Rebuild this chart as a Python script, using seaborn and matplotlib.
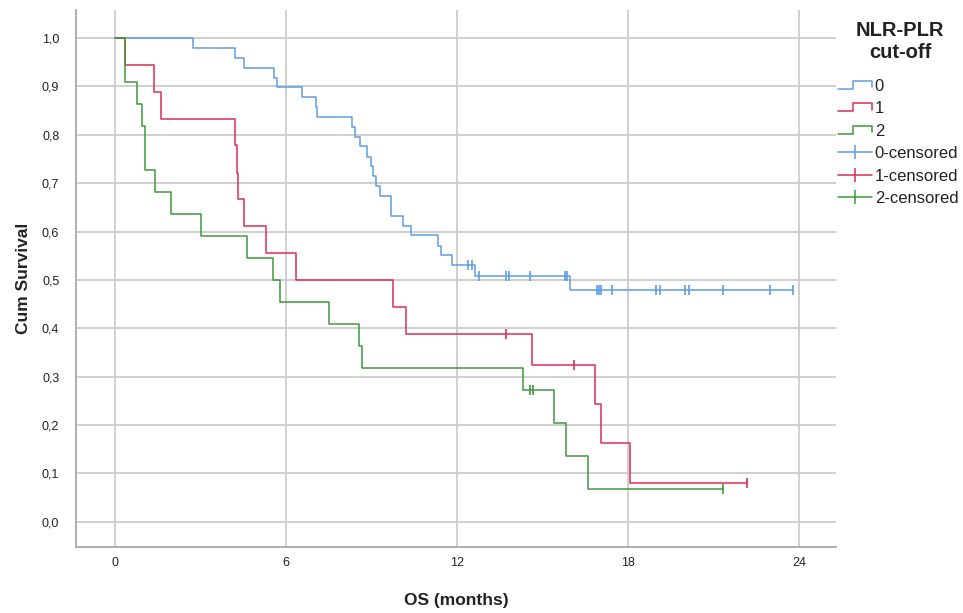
import numpy as np
import pandas as pd
import matplotlib
matplotlib.use("Agg")
import matplotlib.pyplot as plt
import seaborn as sns
from matplotlib.lines import Line2D
from matplotlib.legend_handler import HandlerBase

# ---- data (Kaplan-Meier steps) ----
groups = ["0", "1", "2"]

t0 = [0, 2.73, 4.21, 4.54, 5.58, 5.70, 6.55, 7.04, 7.10, 8.30, 8.42, 8.60, 8.83,
      8.97, 9.04, 9.15, 9.30, 9.67, 10.12, 10.37, 11.34, 11.43, 11.81, 12.63,
      15.96, 23.80]
s0 = [1.0, 0.980, 0.959, 0.939, 0.918, 0.898, 0.878, 0.857, 0.837, 0.816, 0.796,
      0.776, 0.755, 0.735, 0.714, 0.694, 0.673, 0.633, 0.612, 0.592, 0.571,
      0.551, 0.531, 0.508, 0.479, 0.479]
c0 = [12.40, 12.51, 12.78, 13.72, 13.84, 14.56, 15.79, 15.87, 16.90, 16.98,
      17.04, 17.45, 19.00, 19.12, 20.00, 20.15, 21.35, 22.98, 23.80]

t1 = [0, 0.35, 1.35, 1.60, 4.21, 4.27, 4.30, 4.54, 5.29, 6.34, 9.77, 10.21,
      14.62, 16.84, 17.05, 18.07, 22.19]
s1 = [1.0, 0.944, 0.889, 0.833, 0.778, 0.722, 0.667, 0.611, 0.556, 0.500,
      0.444, 0.389, 0.324, 0.243, 0.162, 0.081, 0.081]
c1 = [13.72, 16.12, 22.19]

t2 = [0, 0.35, 0.76, 0.94, 1.05, 1.40, 1.96, 3.00, 4.64, 5.53, 5.79, 7.52,
      8.57, 8.65, 14.30, 15.40, 15.82, 16.61, 21.35]
s2 = [1.0, 0.909, 0.864, 0.818, 0.727, 0.682, 0.636, 0.591, 0.545, 0.500,
      0.455, 0.409, 0.364, 0.318, 0.273, 0.205, 0.136, 0.068, 0.068]
c2 = [14.56, 14.66, 21.35]

x_ticks = [0, 6, 12, 18, 24]
y_ticks = [0.0, 0.1, 0.2, 0.3, 0.4, 0.5, 0.6, 0.7, 0.8, 0.9, 1.0]
y_labels = ["0,0", "0,1", "0,2", "0,3", "0,4", "0,5", "0,6", "0,7", "0,8", "0,9", "1,0"]

colors = {"0": "#5f9de6", "1": "#dd2d55", "2": "#3f983b"}

steps = {"0": (t0, s0, c0), "1": (t1, s1, c1), "2": (t2, s2, c2)}

curve_df = pd.concat([pd.DataFrame({"t": t, "s": s, "g": g})
                      for g, (t, s, c) in steps.items()], ignore_index=True)
cens_rows = []
for g, (t, s, c) in steps.items():
    ta = np.array(t); sa = np.array(s)
    for ct in c:
        idx = np.searchsorted(ta, ct, side="right") - 1
        cens_rows.append({"t": ct, "s": sa[idx], "g": g})
cens_df = pd.DataFrame(cens_rows)

# ---- figure ----
sns.set_theme(style="white")
plt.rcParams["font.family"] = ["Liberation Sans", "DejaVu Sans"]

fig = plt.figure(figsize=(9.63, 6.13), dpi=100)
ax = fig.add_axes([76 / 963, 1 - 547 / 613, (836 - 76) / 963, (547 - 10) / 613])

for g in groups:
    sub = curve_df[curve_df.g == g]
    sns.lineplot(data=sub, x="t", y="s", ax=ax, color=colors[g], lw=1.1,
                 drawstyle="steps-post", estimator=None, sort=False, zorder=3)
for g in groups:
    sub = cens_df[cens_df.g == g]
    sns.scatterplot(data=sub, x="t", y="s", ax=ax, color=colors[g], marker="|",
                    s=55, linewidth=1.2, zorder=4)

ax.set_xlim(-1.37, 25.3)
ax.set_ylim(-0.052, 1.058)
ax.set_xticks(x_ticks)
ax.set_xticklabels([str(v) for v in x_ticks])
ax.set_yticks(y_ticks)
ax.set_yticklabels(y_labels)
ax.tick_params(axis="both", length=0, labelsize=9, colors="#222222")
ax.tick_params(axis="y", pad=12)
ax.tick_params(axis="x", pad=7)

ax.grid(True, color="#cccccc", lw=1.3, zorder=0)
ax.set_axisbelow(True)
for side in ["top", "right"]:
    ax.spines[side].set_visible(False)
for side in ["left", "bottom"]:
    ax.spines[side].set_color("#a8a8a8")
    ax.spines[side].set_linewidth(1.3)

ax.set_xlabel("OS (months)", fontsize=12.5, fontweight="bold", color="#222222")
ax.set_ylabel("Cum Survival", fontsize=12.5, fontweight="bold", color="#222222")
ax.xaxis.set_label_coords(0.5, -0.086)
ax.yaxis.set_label_coords(-0.059, 0.5)


class StepHandler(HandlerBase):
    def create_artists(self, legend, orig_handle, xdescent, ydescent, width,
                       height, fontsize, trans):
        x0 = -xdescent
        y0 = -ydescent + height * 0.15
        y1 = -ydescent + height * 0.85
        xs = [x0, x0 + 0.45 * width, x0 + 0.45 * width, x0 + width, x0 + width]
        ys = [y0, y0, y1, y1, y0 + 0.15 * height]
        ln = Line2D(xs, ys, color=orig_handle.get_color(), lw=1.1, transform=trans)
        return [ln]


step_handles = [Line2D([], [], color=colors[g]) for g in groups]
cens_handles = [Line2D([], [], color=colors[g], lw=1.1, marker="|",
                       markersize=10, markeredgewidth=1.1) for g in groups]
handles = step_handles + cens_handles
labels = groups + [g + "-censored" for g in groups]
hmap = {h: StepHandler() for h in step_handles}

leg = fig.legend(handles, labels, handler_map=hmap, loc="upper left",
                 bbox_to_anchor=(831 / 963, 1 - 72 / 613), frameon=False,
                 fontsize=12, handlelength=2.05, handletextpad=0.18,
                 labelspacing=0.45, numpoints=1, borderaxespad=0)
for txt in leg.get_texts():
    txt.set_color("#222222")

fig.text(900 / 963, 1 - 42 / 613, "NLR-PLR\ncut-off", ha="center", va="center",
         fontsize=14.5, fontweight="bold", linespacing=1.2, color="#222222")

fig.savefig("out.png", dpi=100)
